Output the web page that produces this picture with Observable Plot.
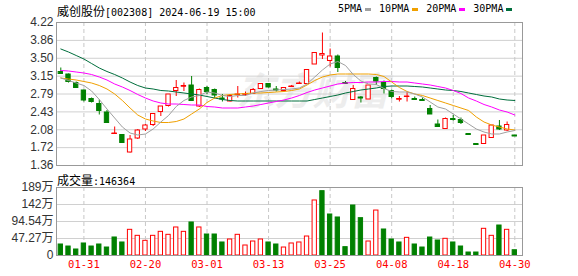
<!DOCTYPE html>
<html><head><meta charset="utf-8">
<script src="https://cdn.jsdelivr.net/npm/d3@7"></script>
<script src="https://cdn.jsdelivr.net/npm/@observablehq/plot@0.6"></script>
<style>
body{margin:0;background:#fff;}
#c{position:relative;width:578px;height:276px;overflow:hidden;font-family:"Noto Sans CJK SC",sans-serif;}
.t{position:absolute;white-space:nowrap;color:#000;line-height:14px;}
.m{font-family:"DejaVu Sans Mono",monospace;font-size:10px;}
.sq{display:inline-block;width:6px;height:3px;vertical-align:middle;margin:0 8px 0 3px;}
svg{position:absolute;left:0;}
</style></head><body><div id="c"></div>
<script>
// ---- data ----
const stockName = "威创股份";
const stockCode = "[002308] 2024-06-19 15:00";
const volLabel = "成交量:146364";
const dates = ["01-26","01-29","01-30","01-31","02-01","02-02","02-05","02-06","02-07","02-08","02-19","02-20","02-21","02-22","02-23","02-26","02-27","02-28","02-29","03-01","03-04","03-05","03-06","03-07","03-08","03-11","03-12","03-13","03-14","03-15","03-18","03-19","03-20","03-21","03-22","03-25","03-26","03-27","03-28","03-29","04-01","04-02","04-03","04-08","04-09","04-10","04-11","04-12","04-15","04-16","04-17","04-18","04-19","04-22","04-23","04-24","04-25","04-26","04-29","04-30"];
const open  = [3.23,3.18,3.01,2.86,2.69,2.59,2.42,1.99,1.97,1.62,1.90,2.08,2.17,2.43,2.55,2.85,2.94,2.96,2.54,2.91,2.87,2.70,2.64,2.77,2.78,2.79,2.89,2.99,2.88,2.85,2.93,2.99,2.99,3.38,3.56,3.45,3.54,3.01,2.67,2.72,2.68,3.11,3.01,2.85,2.68,2.73,2.69,2.67,2.49,2.18,2.09,2.29,2.27,1.99,1.79,1.79,1.91,2.14,2.06,1.96];
const high  = [3.31,3.19,3.03,2.87,2.71,2.67,2.46,2.13,1.97,1.96,2.08,2.18,2.39,2.54,2.78,3.06,3.01,3.14,2.89,2.94,2.89,2.78,2.78,2.94,2.83,2.90,2.99,2.99,2.94,2.92,2.96,3.03,3.27,3.61,4.01,3.69,3.57,3.04,2.96,2.74,2.96,3.13,3.05,2.87,2.74,2.83,2.73,2.71,2.56,2.27,2.31,2.36,2.31,1.99,1.79,1.96,2.16,2.26,2.23,1.96];
const low   = [3.18,3.01,2.90,2.63,2.61,2.37,2.21,1.99,1.81,1.61,1.88,2.04,2.14,2.34,2.53,2.74,2.84,2.64,2.52,2.78,2.69,2.63,2.63,2.71,2.74,2.79,2.89,2.91,2.83,2.84,2.93,2.99,2.99,3.38,3.48,3.33,3.22,2.98,2.66,2.61,2.68,2.96,2.79,2.69,2.63,2.63,2.66,2.64,2.38,2.13,2.09,2.25,2.18,1.98,1.78,1.79,1.91,2.06,2.04,1.95];
const close = [3.19,3.03,2.91,2.66,2.63,2.45,2.21,2.00,1.81,1.88,2.06,2.16,2.39,2.54,2.78,2.91,2.95,2.65,2.87,2.83,2.76,2.69,2.75,2.78,2.79,2.87,2.99,2.92,2.87,2.91,2.94,3.00,3.27,3.61,3.59,3.54,3.31,3.00,2.89,2.71,2.96,3.04,2.89,2.73,2.69,2.74,2.68,2.66,2.38,2.13,2.29,2.28,2.21,1.98,1.78,1.96,2.16,2.08,2.17,1.95];
const prevClose = 3.26;
const volume = [30.6,25.0,16.7,33.4,25.0,30.6,22.2,50.1,36.2,71.4,54.7,40.8,54.7,65.8,57.5,77.9,65.8,91.8,77.9,58.4,58.4,36.2,44.5,57.5,27.8,38.9,44.5,36.2,30.6,22.2,33.4,36.2,52.8,153.0,178.9,114.0,105.7,23.2,139.0,103.8,38.9,125.0,72.3,44.5,36.2,49.1,30.6,22.2,50.0,41.7,46.4,36.2,25.0,8.3,8.3,74.2,54.7,83.4,71.4,14.64];
const ma5  = [3.11,3.06,3.01,2.96,2.85,2.68,2.49,2.31,2.13,2.01,1.97,1.99,2.09,2.23,2.36,2.54,2.66,2.73,2.76,2.83,2.81,2.76,2.74,2.76,2.76,2.81,2.84,2.86,2.87,2.88,2.89,2.91,2.99,3.13,3.27,3.39,3.44,3.36,3.18,3.05,2.99,2.98,2.90,2.84,2.83,2.83,2.79,2.73,2.63,2.53,2.49,2.39,2.29,2.19,2.09,2.03,1.99,1.99,2.03,2.06];
const ma10 = [3.11,3.09,3.07,3.04,3.01,2.96,2.89,2.79,2.66,2.51,2.37,2.29,2.25,2.22,2.22,2.24,2.29,2.39,2.49,2.62,2.71,2.76,2.78,2.79,2.80,2.81,2.81,2.82,2.83,2.84,2.86,2.89,2.97,3.06,3.13,3.17,3.19,3.19,3.19,3.19,3.19,3.18,3.14,3.03,2.92,2.84,2.79,2.76,2.71,2.66,2.61,2.56,2.51,2.46,2.33,2.23,2.17,2.13,2.09,2.07];
const ma20 = [3.26,3.25,3.23,3.21,3.18,3.13,3.07,2.99,2.93,2.86,2.78,2.71,2.65,2.61,2.59,2.59,2.58,2.57,2.57,2.54,2.53,2.51,2.51,2.51,2.53,2.55,2.58,2.61,2.64,2.67,2.71,2.76,2.82,2.87,2.91,2.95,2.99,3.01,3.02,3.02,3.03,3.03,3.04,3.04,3.03,3.03,3.01,2.99,2.97,2.94,2.91,2.86,2.80,2.71,2.65,2.58,2.53,2.47,2.43,2.37];
const ma30 = [3.69,3.63,3.56,3.49,3.40,3.31,3.24,3.18,3.11,3.03,2.96,2.91,2.89,2.86,2.85,2.83,2.81,2.79,2.77,2.74,2.71,2.68,2.66,2.65,2.65,2.65,2.65,2.65,2.65,2.65,2.65,2.65,2.65,2.68,2.71,2.74,2.77,2.81,2.84,2.87,2.89,2.91,2.94,2.95,2.95,2.95,2.94,2.93,2.91,2.89,2.87,2.86,2.84,2.81,2.78,2.75,2.73,2.69,2.67,2.66];
const priceTickLabels = ["1.36","1.72","2.08","2.43","2.79","3.15","3.50","3.86","4.22"];
const volTickLabels = ["0","47.27万","94.54万","142万","189万"];
const volMax = 189.08;
const dateTickLabels = ["01-31","02-20","03-01","03-13","03-25","04-08","04-18","04-30"];
const maNames = ["5PMA","10PMA","20PMA","30PMA"];
const maColors = ["#a0a0a0","#f0a000","#ff00ff","#006e3c"];
const watermark = "东方财富";

// ---- derived ----
const RED = "#ff0000", GREEN = "#008000";
const pMin = +priceTickLabels[0], pMax = +priceTickLabels[priceTickLabels.length - 1];
const priceTicks = priceTickLabels.map((_, k) => pMin + k * (pMax - pMin) / (priceTickLabels.length - 1));
const priceLabelOf = new Map(priceTicks.map((v, k) => [v, priceTickLabels[k]]));
const volTicks = volTickLabels.map((_, k) => k * volMax / (volTickLabels.length - 1));
const volLabelOf = new Map(volTicks.map((v, k) => [v, volTickLabels[k]]));
const dateTicks = dateTickLabels.map(s => dates.indexOf(s));
const dateLabelOf = new Map(dateTicks.map((v, k) => [v, dateTickLabels[k]]));
const candles = dates.map((d, i) => ({i, o: open[i], h: high[i], l: low[i], c: close[i], up: close[i] >= open[i]}));
const vols = dates.map((d, i) => ({i, v: volume[i], up: close[i] >= (i ? close[i - 1] : prevClose)}));
const hw = 0.28;
const xDomain = [-0.56, 60.0];
const font = "'Liberation Sans', Arial, 'Noto Sans CJK SC', sans-serif";

const c = document.getElementById("c");

const price = Plot.plot({
  width: 578, height: 178,
  marginTop: 22, marginBottom: 13, marginLeft: 56, marginRight: 56,
  x: {domain: xDomain, axis: null},
  y: {domain: [pMin, pMax]},
  style: {fontFamily: font, fontSize: "12px", background: "transparent", color: "#333"},
  marks: [
    Plot.text([watermark], {frameAnchor: "top-left", dx: 256, dy: 70, text: d => d, fontSize: 38, fontWeight: "bold", fontStyle: "italic", fill: "#ededed", textAnchor: "middle", lineAnchor: "middle", fontFamily: "'Noto Sans CJK SC'"}),
    Plot.gridY(priceTicks, {stroke: "#d0d0d0", strokeOpacity: 1}),
    Plot.gridX(dateTicks, {stroke: "#c8c8c8", strokeOpacity: 1, strokeDasharray: "4,3"}),
    Plot.axisY(priceTicks, {tickSize: 0, tickPadding: 3, tickFormat: d => priceLabelOf.get(d), fontSize: 12, fill: "#333", label: null}),
    Plot.ruleX(candles, {x: "i", y1: "l", y2: "h", stroke: d => d.up ? RED : GREEN}),
    Plot.rect(candles, {x1: d => d.i - hw, x2: d => d.i + hw, y1: "o", y2: "c", fill: d => d.up ? "#fff" : GREEN, stroke: d => d.up ? RED : GREEN}),
    Plot.ruleY(candles.filter(d => Math.abs(d.c - d.o) < 0.015), {x1: d => d.i - hw - 0.06, x2: d => d.i + hw + 0.06, y: "c", stroke: d => d.up ? RED : GREEN}),
    Plot.lineY(ma30, {stroke: maColors[3], strokeWidth: 1}),
    Plot.lineY(ma20, {stroke: maColors[2], strokeWidth: 1}),
    Plot.lineY(ma10, {stroke: maColors[1], strokeWidth: 1}),
    Plot.lineY(ma5, {stroke: maColors[0], strokeWidth: 1}),
    Plot.frame({stroke: "#999"})
  ]
});
price.style.top = "0px";
c.appendChild(price);

const vol = Plot.plot({
  width: 578, height: 96,
  marginTop: 7, marginBottom: 21, marginLeft: 56, marginRight: 56,
  x: {domain: xDomain},
  y: {domain: [0, volMax]},
  style: {fontFamily: font, fontSize: "12px", background: "transparent", color: "#333"},
  marks: [
    Plot.gridY(volTicks, {stroke: "#d0d0d0", strokeOpacity: 1}),
    Plot.gridX(dateTicks, {stroke: "#c8c8c8", strokeOpacity: 1, strokeDasharray: "4,3"}),
    Plot.rect(vols, {x1: d => d.i - hw, x2: d => d.i + hw, y1: 0, y2: "v", fill: d => d.up ? "#fff" : GREEN, stroke: d => d.up ? RED : GREEN}),
    Plot.axisY(volTicks, {tickSize: 0, tickPadding: 3, tickFormat: d => volLabelOf.get(d), fontSize: 12, fill: "#333", label: null}),
    Plot.axisX(dateTicks, {tickSize: 0, tickPadding: 5, tickFormat: d => dateLabelOf.get(d), fill: RED, fontSize: 10.5, fontFamily: "'DejaVu Sans Mono', monospace", label: null}),
    Plot.frame({stroke: "#999"})
  ]
});
vol.style.top = "180px";
c.appendChild(vol);

// title
const title = document.createElement("div");
title.className = "t";
title.style.left = "57px"; title.style.top = "2px";
title.innerHTML = `<span style="font-size:12px">${stockName}</span><span class="m">${stockCode}</span>`;
c.appendChild(title);

// legend
const legend = document.createElement("div");
legend.className = "t m";
legend.style.left = "338px"; legend.style.top = "2px";
legend.innerHTML = maNames.map((n, k) => `<span>${n}</span><span class="sq" style="background:${maColors[k]}"></span>`).join("");
c.appendChild(legend);

// volume label
const vl = document.createElement("div");
vl.className = "t";
vl.style.left = "57px"; vl.style.top = "171px";
vl.innerHTML = `<span style="font-size:12px">${volLabel.slice(0,3)}</span><span class="m">${volLabel.slice(3)}</span>`;
c.appendChild(vl);
</script></body></html>
